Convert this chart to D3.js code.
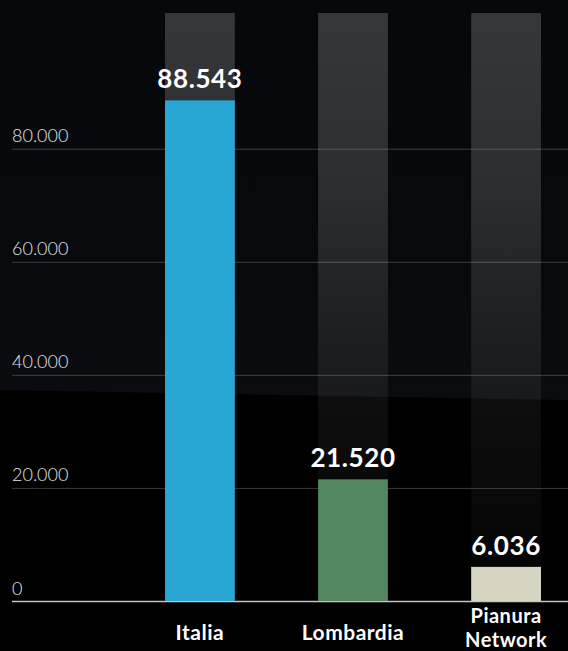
<!DOCTYPE html>
<html>
<head>
<meta charset="utf-8">
<script src="https://cdn.jsdelivr.net/npm/d3@7"></script>
<style>
  html, body { margin: 0; padding: 0; background: #000; }
  svg { display: block; }
</style>
</head>
<body>
<svg id="chart" width="568" height="651"></svg>
<script>
// Data
const categories = ["Italia", "Lombardia", "Pianura\nNetwork"];
const values = [88543, 21520, 6036];
const barColors = ["#29a6d4", "#528560", "#d6d5c2"];
const tickValues = [0, 20000, 40000, 60000, 80000];
const trackMax = 104000;

const W = 568, H = 651;
const svg = d3.select("#chart");

const it = d3.formatLocale({ decimal: ",", thousands: ".", grouping: [3], currency: ["€", ""] });
const fmt = it.format(",d");

// Background: dark upper panel with a slanted edge over a black lower panel
const defs = svg.append("defs");
const bgGrad = defs.append("linearGradient").attr("id", "bgTop")
  .attr("x1", 0).attr("y1", 0).attr("x2", 0).attr("y2", 1);
bgGrad.append("stop").attr("offset", "0%").attr("stop-color", "#06080c");
bgGrad.append("stop").attr("offset", "70%").attr("stop-color", "#07090d");
bgGrad.append("stop").attr("offset", "100%").attr("stop-color", "#0a0c10");

svg.append("rect").attr("width", W).attr("height", H).attr("fill", "#000");
svg.append("path")
  .attr("d", `M0,0H${W}V400L0,390Z`)
  .attr("fill", "url(#bgTop)");

// Scales
const x = d3.scaleBand()
  .domain(categories)
  .range([165, 541])
  .paddingInner(0.544)
  .paddingOuter(0);

const y = d3.scaleLinear()
  .domain([0, trackMax])
  .range([601, 13]);

// Track columns behind each bar
const trackGrad = defs.append("linearGradient").attr("id", "track")
  .attr("gradientUnits", "userSpaceOnUse")
  .attr("x1", 0).attr("y1", y(trackMax)).attr("x2", 0).attr("y2", y(0));
[[0, 0.19], [0.3, 0.15], [0.56, 0.08], [0.66, 0.055], [0.93, 0.022], [1, 0.015]]
  .forEach(([o, a]) => trackGrad.append("stop")
    .attr("offset", o).attr("stop-color", "#fff").attr("stop-opacity", a));

svg.append("g").selectAll("rect")
  .data(categories)
  .join("rect")
  .attr("x", d => x(d))
  .attr("width", x.bandwidth())
  .attr("y", y(trackMax))
  .attr("height", y(0) - y(trackMax))
  .attr("fill", "url(#track)");

// Gridlines with labels sitting above them
const axis = d3.axisRight(y)
  .tickValues(tickValues)
  .tickSize(W - 12)
  .tickFormat(fmt);

const gAxis = svg.append("g")
  .attr("transform", "translate(12,0)")
  .call(axis);
gAxis.select(".domain").remove();
gAxis.selectAll(".tick line")
  .attr("stroke", d => d === 0 ? "#c4c4c4" : "#ffffff")
  .attr("stroke-opacity", d => d === 0 ? 1 : 0.22)
  .attr("stroke-width", d => d === 0 ? 1.5 : 1);
gAxis.selectAll(".tick text")
  .attr("x", 0)
  .attr("dy", -7)
  .attr("text-anchor", "start")
  .attr("dominant-baseline", "auto")
  .attr("fill", "#e4e4e4")
  .attr("font-family", "Lato, sans-serif")
  .attr("font-weight", 300)
  .attr("font-size", 18);

// Bars
svg.append("g").selectAll("rect")
  .data(values)
  .join("rect")
  .attr("x", (d, i) => x(categories[i]))
  .attr("width", x.bandwidth())
  .attr("y", d => y(d))
  .attr("height", d => y(0) - y(d))
  .attr("fill", (d, i) => barColors[i]);

// Value labels
svg.append("g").selectAll("text")
  .data(values)
  .join("text")
  .attr("x", (d, i) => x(categories[i]) + x.bandwidth() / 2)
  .attr("y", d => y(d) - 12)
  .attr("text-anchor", "middle")
  .attr("fill", "#fff")
  .attr("font-family", "Lato, sans-serif")
  .attr("font-weight", 700)
  .attr("font-size", 26)
  .attr("letter-spacing", 0.6)
  .text(d => fmt(d));

// Category labels (two-line names are set slightly tighter)
const cat = svg.append("g").selectAll("text")
  .data(categories)
  .join("text")
  .attr("text-anchor", "middle")
  .attr("fill", "#fff")
  .attr("font-family", "Lato, sans-serif")
  .attr("font-weight", 700)
  .attr("font-size", d => d.includes("\n") ? 20 : 21)
  .attr("letter-spacing", 0.5)
  .attr("transform", d => `translate(${x(d) + x.bandwidth() / 2},0)`);

cat.each(function (d) {
  const lines = d.split("\n");
  const t = d3.select(this);
  const base = lines.length > 1 ? 622.5 : 640;
  lines.forEach((ln, k) => {
    t.append("tspan").attr("x", 0).attr("y", base + k * 24).text(ln);
  });
});
</script>
</body>
</html>
